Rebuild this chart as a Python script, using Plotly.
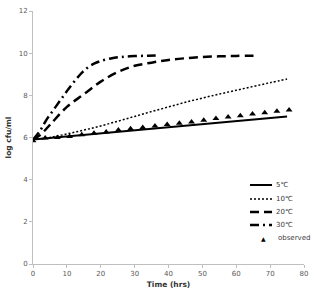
import plotly.graph_objects as go

# Data
t5 = [0, 75]
y5 = [5.9, 7.0]

t10 = [0, 5, 10, 15, 20, 25, 30, 35, 40, 45, 50, 55, 60, 65, 70, 75]
y10 = [5.9, 6.0, 6.17, 6.35, 6.55, 6.77, 7.0, 7.23, 7.45, 7.67, 7.87, 8.06, 8.24, 8.42, 8.6, 8.77]

t20 = [0, 2, 5, 10, 15, 20, 25, 30, 35, 40, 45, 50, 55, 60, 66]
y20 = [5.9, 6.1, 6.6, 7.45, 8.05, 8.65, 9.1, 9.4, 9.55, 9.68, 9.76, 9.82, 9.85, 9.87, 9.88]

t30 = [0, 2, 4, 6, 8, 10, 12, 14, 16, 18, 20, 23, 26, 30, 34, 37]
y30 = [5.9, 6.3, 6.85, 7.3, 7.75, 8.2, 8.62, 9.0, 9.3, 9.5, 9.63, 9.75, 9.82, 9.86, 9.88, 9.9]

t_obs = [0, 3.6, 7.2, 10.8, 14.4, 18, 21.6, 25.2, 28.8, 32.4, 36, 39.6, 43.2, 46.8,
         50.4, 54, 57.6, 61.2, 64.8, 68.4, 72, 75.6]
y_obs = [5.85, 5.98, 6.0, 6.05, 6.13, 6.2, 6.26, 6.35, 6.42, 6.48, 6.54, 6.62, 6.68, 6.73,
         6.82, 6.9, 6.97, 7.03, 7.11, 7.17, 7.25, 7.31]

x_ticks = [0, 10, 20, 30, 40, 50, 60, 70, 80]
y_ticks = [0, 2, 4, 6, 8, 10, 12]

series_names = ["5\u2103", "10\u2103", "20\u2103", "30\u2103", "observed"]

W, H = 314, 290
ML, MR, MT, MB = 33, 10, 11, 26
PW, PH = W - ML - MR, H - MT - MB

styles = [
    dict(color="black", width=2, dash="solid"),
    dict(color="black", width=1.5, dash="2px,2px"),
    dict(color="black", width=2.5, dash="9px,5px"),
    dict(color="black", width=2.5, dash="9px,4px,2px,4px"),
]

fig = go.Figure()
for (tx, ty), name, st in zip([(t5, y5), (t10, y10), (t20, y20), (t30, y30)], series_names[:4], styles):
    fig.add_trace(go.Scatter(x=tx, y=ty, mode="lines", name=name, line=st,
                             line_shape="spline", showlegend=False))
fig.add_trace(go.Scatter(x=t_obs, y=y_obs, mode="markers", name=series_names[4], showlegend=False,
                         marker=dict(symbol="triangle-up", size=6, color="black")))

axis_common = dict(showgrid=False, zeroline=False, showline=True, linecolor="#bfbfbf",
                   linewidth=1, ticks="outside", ticklen=3, tickcolor="#bfbfbf", automargin=False,
                   tickfont=dict(family="DejaVu Sans", size=7, color="#595959"))

fig.update_xaxes(range=[0, 80], tickvals=x_ticks, **axis_common,
                 title=dict(text="<b>Time (hrs)</b>", font=dict(family="DejaVu Sans", size=7.5, color="#333"),
                            standoff=4))
fig.update_yaxes(range=[0, 12], tickvals=y_ticks, **axis_common,
                 title=dict(text="<b>log cfu/ml</b>", font=dict(family="DejaVu Sans", size=7.5, color="#333"),
                            standoff=6))

# Manual legend (pixel layout converted to paper coords)
def px(xp):
    return (xp - ML) / PW

def py(yp):
    return (H - MB - yp) / PH

rows = [185, 199, 212, 225, 238]
shapes = []
annotations = []
for i, st in enumerate(styles):
    shapes.append(dict(type="line", xref="paper", yref="paper",
                       x0=px(250), x1=px(272), y0=py(rows[i]), y1=py(rows[i]),
                       line=st))
for i, name in enumerate(series_names):
    annotations.append(dict(xref="paper", yref="paper", x=px(274 if i < 4 else 276), y=py(rows[i]),
                            text=name, showarrow=False, xanchor="left", yanchor="middle",
                            font=dict(family="DejaVu Sans", size=7, color="#404040")))
annotations.append(dict(xref="paper", yref="paper", x=px(263), y=py(rows[4]),
                        text="\u25B2", showarrow=False, xanchor="center", yanchor="middle",
                        font=dict(family="DejaVu Sans", size=6, color="black")))

fig.update_layout(
    width=W, height=H,
    margin=dict(l=ML, r=MR, t=MT, b=MB),
    paper_bgcolor="white", plot_bgcolor="white",
    showlegend=False, shapes=shapes, annotations=annotations,
)

fig.write_html("out.html")
